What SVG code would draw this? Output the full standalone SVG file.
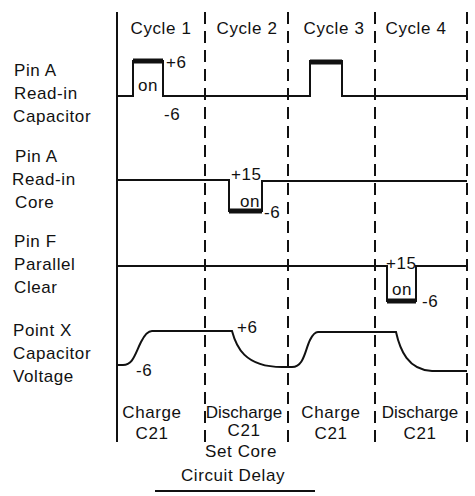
<svg xmlns="http://www.w3.org/2000/svg" width="475" height="496" viewBox="0 0 475 496">
<style>
text{font-family:"Liberation Sans","DejaVu Sans",sans-serif;font-size:17px;fill:#111;letter-spacing:0.6px}
.m{text-anchor:middle}
.d{letter-spacing:0}
.tr{fill:none;stroke:#111;stroke-width:2;stroke-linejoin:miter}
.on{fill:none;stroke:#111;stroke-width:5}
.dash{stroke:#111;stroke-width:2;stroke-dasharray:12 7}
.solid{stroke:#111;stroke-width:2}
</style>
<rect width="475" height="496" fill="#fff"/>
<g id="grid">
<line class="solid" x1="117" y1="12" x2="117" y2="442"/>
<line class="dash" x1="205" y1="12" x2="205" y2="445"/>
<line class="dash" x1="288" y1="12" x2="288" y2="445"/>
<line class="dash" x1="375" y1="12" x2="375" y2="445"/>
<line class="dash" x1="467" y1="12" x2="467" y2="445"/>
</g>
<g id="headers">
<text x="161" y="34" class="m">Cycle 1</text>
<text x="247" y="34" class="m">Cycle 2</text>
<text x="334" y="34" class="m">Cycle 3</text>
<text x="416" y="34" class="m">Cycle 4</text>
</g>
<g id="pinA-cap">
<text x="14" y="76">Pin A</text>
<text x="14" y="99">Read-in</text>
<text x="13" y="122">Capacitor</text>
<path class="tr" d="M117 96 H133 V61 H163 V96 H310 V61 H342 V96 H467"/>
<line class="on" x1="133" y1="61" x2="163" y2="61"/>
<line class="on" x1="310" y1="62" x2="342" y2="62"/>
<text x="166" y="68">+6</text>
<text x="138" y="91">on</text>
<text x="164" y="120">-6</text>
</g>
<g id="pinA-core">
<text x="15" y="162">Pin A</text>
<text x="12" y="185">Read-in</text>
<text x="15" y="208">Core</text>
<path class="tr" d="M117 180 H229 V211 H262 V181 H467"/>
<line class="on" x1="229" y1="211" x2="262" y2="211"/>
<text x="231" y="180">+15</text>
<text x="240" y="207">on</text>
<text x="264" y="218">-6</text>
</g>
<g id="pinF">
<text x="14" y="247">Pin F</text>
<text x="14" y="270">Parallel</text>
<text x="14" y="293">Clear</text>
<path class="tr" d="M117 266 H387 V301 H416 V266 H467"/>
<line class="on" x1="387" y1="301" x2="416" y2="301"/>
<text x="386" y="269">+15</text>
<text x="392" y="295">on</text>
<text x="422" y="307">-6</text>
</g>
<g id="pointX">
<text x="13" y="336">Point X</text>
<text x="13" y="359">Capacitor</text>
<text x="13" y="382">Voltage</text>
<path class="tr" d="M117 365 H123 C133 365 135 354 141 342 C145 334 148 331 152 331 H232 C236 346 244 367 282 367 H292 C304 367 305 350 310 340 C313 334 315 332 318 332 H396 C400 350 408 370 432 371 H467"/>
<text x="136" y="376">-6</text>
<text x="237" y="333">+6</text>
</g>
<g id="bottom">
<text x="152" y="418" class="m">Charge</text>
<text x="152" y="439" class="m">C21</text>
<text x="244" y="418" class="m d">Discharge</text>
<text x="244" y="436" class="m">C21</text>
<text x="241" y="457" class="m">Set Core</text>
<text x="331" y="418" class="m">Charge</text>
<text x="331" y="439" class="m">C21</text>
<text x="420" y="418" class="m d">Discharge</text>
<text x="420" y="439" class="m">C21</text>
<text x="233" y="481" class="m">Circuit Delay</text>
<line class="solid" x1="155" y1="491" x2="315" y2="491"/>
</g>
</svg>
